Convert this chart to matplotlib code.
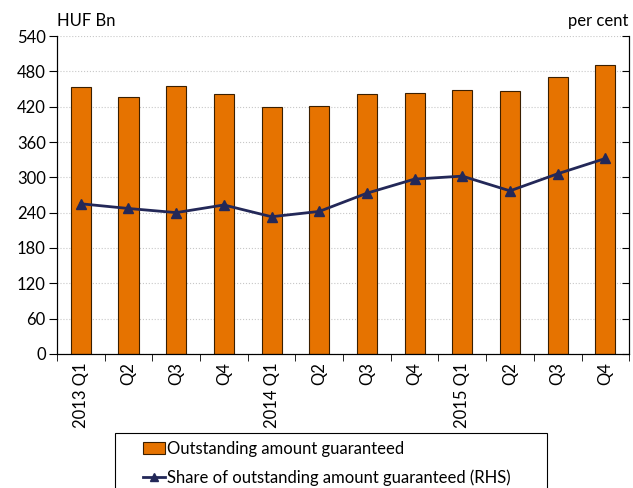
import numpy as np
import matplotlib.pyplot as plt
from matplotlib.patches import Rectangle

plt.rcParams['font.family'] = ['Lato', 'DejaVu Sans']

# data
quarters = ['2013 Q1', 'Q2', 'Q3', 'Q4', '2014 Q1', 'Q2', 'Q3', 'Q4',
            '2015 Q1', 'Q2', 'Q3', 'Q4']
outstanding = [453, 436, 455, 441, 420, 422, 442, 444, 449, 446, 470, 491]
# share in per cent on the right-hand axis (its labels are cut off in the original)
share = [25.5, 24.7, 24.0, 25.3, 23.3, 24.2, 27.3, 29.7, 30.2, 27.7, 30.6, 33.2]

left_ticks = np.arange(0, 541, 60)
right_ticks = np.arange(0, 55, 6)

bar_color = '#E67300'
line_color = '#232858'
fs = 12

fig = plt.figure(figsize=(6.33, 4.88), dpi=100)
ax = fig.add_axes([0.090, 0.275, 0.904, 0.651])
x = np.arange(len(quarters))

ax.bar(x, outstanding, width=0.42, color=bar_color, edgecolor='#3a1f00',
       linewidth=0.8, label='Outstanding amount guaranteed', zorder=2)
ax.set_ylim(0, 540)
ax.set_yticks(left_ticks)
ax.set_xlim(-0.5, len(quarters) - 0.5)
ax.set_xticks(x)
ax.set_xticklabels(quarters, rotation=90, fontsize=fs)
ax.set_xticks(np.arange(-0.5, len(quarters), 1.0), minor=True)
ax.tick_params(axis='x', which='major', length=0, pad=6)
ax.tick_params(axis='x', which='minor', length=5, direction='out')
ax.tick_params(axis='y', labelsize=fs, length=6, direction='out', pad=2)
ax.yaxis.grid(True, linestyle=':', color='#c8c8c8', linewidth=0.8, zorder=0)
ax.set_axisbelow(True)
ax.spines['top'].set_visible(False)

ax2 = ax.twinx()
ax2.plot(x, share, color=line_color, linewidth=2, marker='^', markersize=7,
         label='Share of outstanding amount guaranteed (RHS)', zorder=3)
ax2.set_ylim(0, 54)
ax2.set_yticks(right_ticks)
ax2.set_yticklabels([])
ax2.tick_params(axis='y', direction='in', length=5)
ax2.spines['top'].set_visible(False)

fig.text(0.090, 0.957, 'HUF Bn', fontsize=fs, ha='left', va='center')
fig.text(0.992, 0.957, 'per cent', fontsize=fs, ha='right', va='center')

# legend frame runs off the bottom of the figure, as in the original
fig.patches.append(Rectangle((115 / 633, -0.05), 432 / 633, 0.05 + 1 - 433 / 488,
                             transform=fig.transFigure, fill=False,
                             edgecolor='black', linewidth=0.8))

h1, l1 = ax.get_legend_handles_labels()
h2, l2 = ax2.get_legend_handles_labels()
leg = fig.legend(h1 + h2, l1 + l2, loc='upper left',
                 bbox_to_anchor=(143 / 633, 1 - 441 / 488), borderaxespad=0,
                 fontsize=fs, frameon=False, borderpad=0,
                 handlelength=1.3, handletextpad=0.15,
                 labelspacing=0.75, markerscale=0.75)

plt.savefig('out.png', dpi=100)
